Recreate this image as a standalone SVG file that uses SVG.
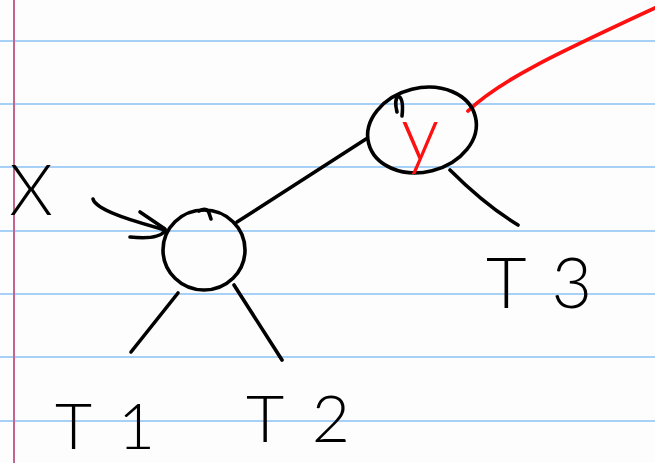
<svg xmlns="http://www.w3.org/2000/svg" width="655" height="463" viewBox="0 0 655 463">
  <style>
    .rule { stroke: #a6d0f6; stroke-width: 2; }
    .margin { stroke: #c5648c; stroke-width: 2; }
    .ink { fill: none; stroke: #000; stroke-width: 3.6; stroke-linecap: round; stroke-linejoin: round; }
    .red { fill: none; stroke: #ff1010; stroke-width: 3.8; stroke-linecap: round; stroke-linejoin: round; }
    .hand { font-family: Lato, "Open Sans", "Liberation Sans", sans-serif; font-weight: 300; fill: #000; }
  </style>

  <!-- lined paper -->
  <rect x="0" y="0" width="655" height="463" fill="#fdfdfd"/>
  <g id="paper">
    <line class="rule" x1="0" y1="41" x2="655" y2="41"/>
    <line class="rule" x1="0" y1="104" x2="655" y2="104"/>
    <line class="rule" x1="0" y1="167" x2="655" y2="167"/>
    <line class="rule" x1="0" y1="231" x2="655" y2="231"/>
    <line class="rule" x1="0" y1="294" x2="655" y2="294"/>
    <line class="rule" x1="0" y1="357" x2="655" y2="357"/>
    <line class="rule" x1="0" y1="421" x2="655" y2="421"/>
    <line class="margin" x1="14" y1="0" x2="14" y2="463"/>
  </g>

  <!-- edges and pointers -->
  <g id="connectors">
    <path class="ink" d="M237,222 L366,139"/>
    <path class="ink" d="M178,293 L131,352"/>
    <path class="ink" d="M234,285 L282,360"/>
    <path class="ink" d="M450,170 Q485,205 518,225"/>
    <!-- pointer from X to its node -->
    <path class="ink" d="M93,199 C96,210 130,220 165,230"/>
    <path class="ink" d="M140,212 L165,229"/>
    <path class="ink" d="M130,237 Q158,240 165,231"/>
    <!-- red pointer leaving y -->
    <path class="red" d="M468,111 C500,80 560,52 655,8"/>
  </g>

  <g id="node-x">
    <ellipse class="ink" cx="204" cy="250" rx="41" ry="40"/>
    <path class="ink" d="M199,211 Q207,207 209,213 L211,219"/>
  </g>

  <g id="node-y">
    <ellipse class="ink" cx="422" cy="130" rx="55" ry="42" transform="rotate(-14 422 130)"/>
    <path class="ink" d="M402,116 Q404,98 398,96 Q394,100 397,112"/>
  </g>

  <!-- labels -->
  <text class="hand" x="31" y="215" font-size="70" text-anchor="middle">X</text>
  <text class="hand" x="420" y="160" font-size="76" text-anchor="middle" style="fill:#ff1010">y</text>
  <text class="hand" x="55" y="449" font-size="64" textLength="100" lengthAdjust="spacing">T1</text>
  <text class="hand" x="246" y="442" font-size="66" textLength="104" lengthAdjust="spacing">T2</text>
  <text class="hand" x="486" y="308" font-size="70" textLength="106" lengthAdjust="spacing">T3</text>
</svg>
